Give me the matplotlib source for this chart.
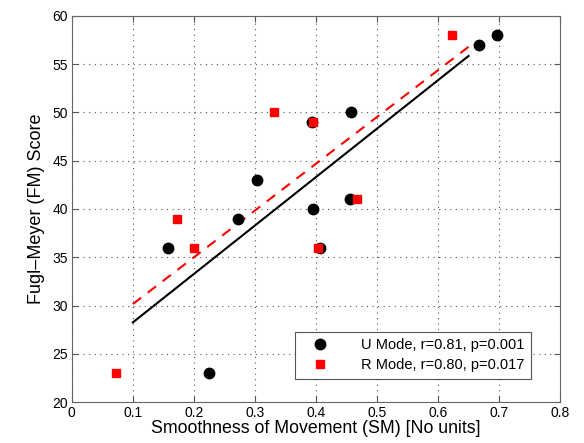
import matplotlib
matplotlib.use("Agg")
import matplotlib.pyplot as plt

# U mode (black circles)
u_sm = [0.158, 0.225, 0.273, 0.304, 0.394, 0.395, 0.407, 0.455, 0.457, 0.668, 0.696]
u_fm = [36, 23, 39, 43, 49, 40, 36, 41, 50, 57, 58]

# R mode (red squares)
r_sm = [0.073, 0.172, 0.200, 0.332, 0.395, 0.404, 0.468, 0.623]
r_fm = [23, 39, 36, 50, 49, 36, 41, 58]

# regression lines
fit_x = [0.1, 0.65]
u_fit = [28.25, 55.85]
r_fit = [30.15, 56.8]

u_label = "U Mode, r=0.81, p=0.001"
r_label = "R Mode, r=0.80, p=0.017"

plt.rcParams["font.family"] = ["Liberation Sans", "DejaVu Sans"]

fig = plt.figure(figsize=(5.84, 4.43), dpi=100)
ax = fig.add_axes([0.123, 0.0925, 0.836, 0.8715])

ax.plot(fit_x, u_fit, color="black", lw=1.5, zorder=2)
ax.plot(fit_x, r_fit, color="red", lw=1.5, ls=(0, (5, 4)), zorder=2)
ax.plot(u_sm, u_fm, "o", color="black", ms=7.5, label=u_label, zorder=3)
ax.plot(r_sm, r_fm, "s", color="red", ms=5.8, mec="red", label=r_label, zorder=4)

ax.set_xlim(0, 0.8)
ax.set_ylim(20, 60)
ax.set_xticks([0, 0.1, 0.2, 0.3, 0.4, 0.5, 0.6, 0.7, 0.8])
ax.set_xticklabels(["0", "0.1", "0.2", "0.3", "0.4", "0.5", "0.6", "0.7", "0.8"])
ax.set_yticks(range(20, 61, 5))
ax.grid(True, color="#555555", ls=(0, (1, 4)), lw=0.8)
ax.tick_params(direction="in", top=True, right=True, labelsize=10, color="#555555", length=4, pad=3)
for s in ax.spines.values():
    s.set_color("#666666")

ax.set_xlabel("Smoothness of Movement (SM) [No units]", fontsize=12.8, labelpad=0)
ax.set_ylabel("Fugl\u2013Meyer (FM) Score", fontsize=13, labelpad=5)

leg = ax.legend(loc="lower right", bbox_to_anchor=(0.9406, 0.06), borderaxespad=0,
                fontsize=10.5, fancybox=False, edgecolor="#555555", framealpha=1,
                handletextpad=1.6, borderpad=0.45, labelspacing=0.4, handlelength=2.5)
leg.get_frame().set_linewidth(0.8)

fig.savefig("out.png", dpi=100)
